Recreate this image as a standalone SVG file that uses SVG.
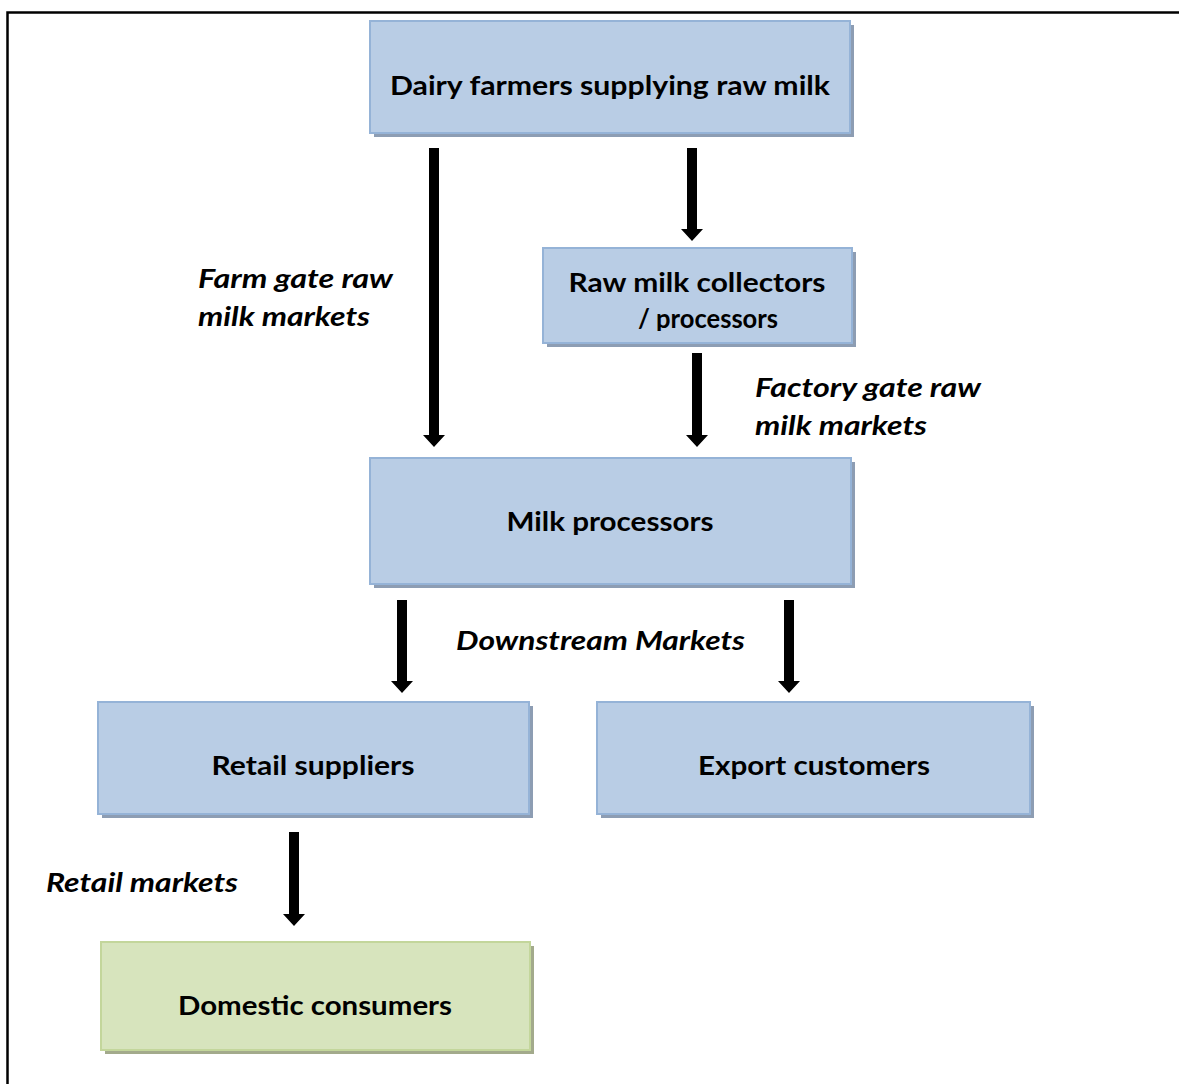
<svg xmlns="http://www.w3.org/2000/svg" width="1179" height="1084" viewBox="0 0 1179 1084">
<style>
.box{fill:#b9cde5;stroke:#95b3d7;stroke-width:2}
.sh{fill:#8d9db3}
.gbox{fill:#d7e4bd;stroke:#c3d69b;stroke-width:2}
.gsh{fill:#a3aa8c}
.nt{font-family:Lato,"Open Sans","Liberation Sans",sans-serif;font-weight:bold;font-size:26px;fill:#000;text-anchor:middle}
.lb{font-family:Lato,"Open Sans","Liberation Sans",sans-serif;font-weight:bold;font-style:italic;font-size:26px;fill:#000}
.ar{fill:#000}
</style>
<defs>
<clipPath id="c2"><rect x="543" y="248" width="309" height="83"/></clipPath>
</defs>
<rect width="1179" height="1084" fill="#fff"/>
<path d="M7.5,1084 V12.5 H1179" fill="none" stroke="#000" stroke-width="2.5"/>

<g id="n1">
<rect class="sh" x="374" y="25" width="480" height="112"/>
<rect class="box" x="370" y="21" width="480" height="112"/>
<text class="nt" x="610" y="95" textLength="440" lengthAdjust="spacingAndGlyphs">Dairy farmers supplying raw milk</text>
</g>
<g id="n2">
<rect class="sh" x="547" y="252" width="309" height="95"/>
<rect class="box" x="543" y="248" width="309" height="95"/>
<g clip-path="url(#c2)">
<text class="nt" x="697" y="292" textLength="257" lengthAdjust="spacingAndGlyphs">Raw milk collectors</text>
<text class="nt" x="708" y="328" textLength="140" lengthAdjust="spacingAndGlyphs">/ processors</text>
</g>
</g>
<g id="n3">
<rect class="sh" x="374" y="462" width="481" height="126"/>
<rect class="box" x="370" y="458" width="481" height="126"/>
<text class="nt" x="610" y="531" textLength="207" lengthAdjust="spacingAndGlyphs">Milk processors</text>
</g>
<g id="n4">
<rect class="sh" x="102" y="706" width="431" height="112"/>
<rect class="box" x="98" y="702" width="431" height="112"/>
<text class="nt" x="313" y="775" textLength="203" lengthAdjust="spacingAndGlyphs">Retail suppliers</text>
</g>
<g id="n5">
<rect class="sh" x="601" y="706" width="433" height="112"/>
<rect class="box" x="597" y="702" width="433" height="112"/>
<text class="nt" x="814" y="775" textLength="232" lengthAdjust="spacingAndGlyphs">Export customers</text>
</g>
<g id="n6">
<rect class="gsh" x="105" y="946" width="429" height="108"/>
<rect class="gbox" x="101" y="942" width="429" height="108"/>
<text class="nt" x="315" y="1015" textLength="274" lengthAdjust="spacingAndGlyphs">Domestic consumers</text>
</g>

<g id="connectors">
<path class="ar" d="M429,148 H439 V435 H445 L434,447 L423,435 H429 Z"/>
<path class="ar" d="M687,148 H697 V229 H703 L692,241 L681,229 H687 Z"/>
<path class="ar" d="M692,353 H702 V435 H708 L697,447 L686,435 H692 Z"/>
<path class="ar" d="M397,600 H407 V681 H413 L402,693 L391,681 H397 Z"/>
<path class="ar" d="M784,600 H794 V681 H800 L789,693 L778,681 H784 Z"/>
<path class="ar" d="M289,832 H299 V914 H305 L294,926 L283,914 H289 Z"/>
</g>

<g id="labels">
<text class="lb" x="198" y="288" textLength="195" lengthAdjust="spacingAndGlyphs">Farm gate raw</text>
<text class="lb" x="198" y="326" textLength="172" lengthAdjust="spacingAndGlyphs">milk markets</text>
<text class="lb" x="755" y="397" textLength="226" lengthAdjust="spacingAndGlyphs">Factory gate raw</text>
<text class="lb" x="755" y="435" textLength="172" lengthAdjust="spacingAndGlyphs">milk markets</text>
<text class="lb" x="456" y="650" textLength="289" lengthAdjust="spacingAndGlyphs">Downstream Markets</text>
<text class="lb" x="46" y="892" textLength="192" lengthAdjust="spacingAndGlyphs">Retail markets</text>
</g>
</svg>
